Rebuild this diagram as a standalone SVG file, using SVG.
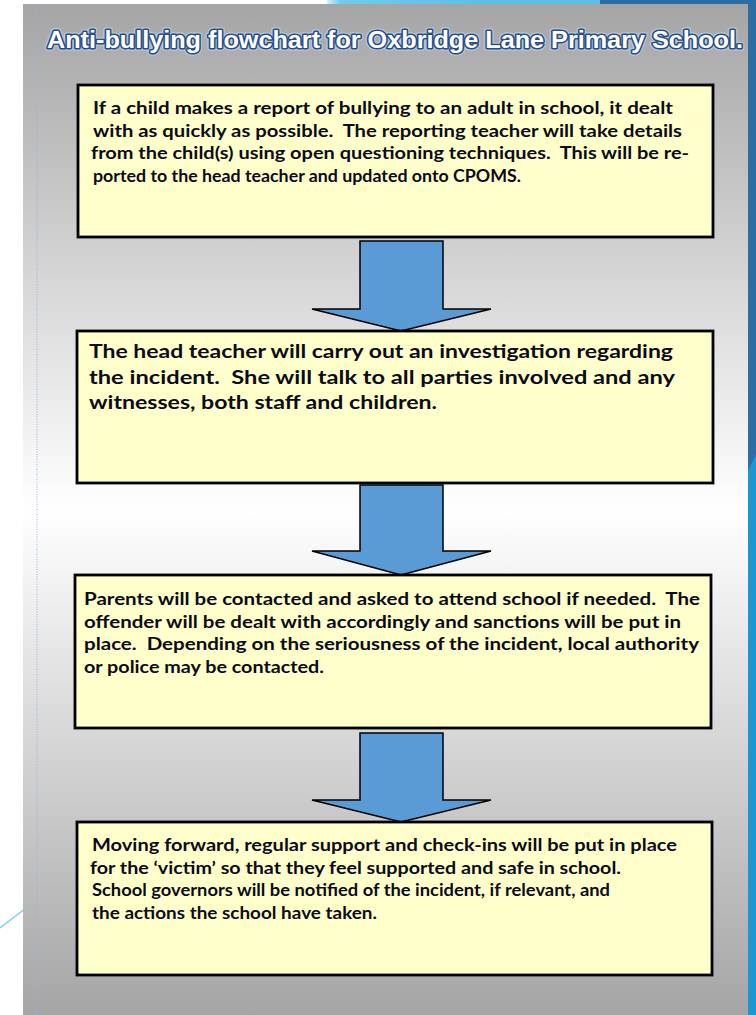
<svg xmlns="http://www.w3.org/2000/svg" width="756" height="1015" viewBox="0 0 756 1015">
<defs>
<linearGradient id="panelGrad" x1="0" y1="0" x2="0" y2="1">
<stop offset="0" stop-color="#a5a5a5"/>
<stop offset="0.5" stop-color="#ffffff"/>
<stop offset="1" stop-color="#a5a5a5"/>
</linearGradient>
<linearGradient id="topGrad" x1="0" y1="0" x2="1" y2="0">
<stop offset="0" stop-color="#d6eff9"/>
<stop offset="0.05" stop-color="#70cbe9"/>
<stop offset="0.55" stop-color="#5cc0e6"/>
<stop offset="1" stop-color="#5cc0e6"/>
</linearGradient>
<style>
.box{fill:#ffffcc;stroke:#000;stroke-width:2.8}
.arrow{fill:#5b9bd5;stroke:#000;stroke-width:1.5;stroke-linejoin:miter}
.t{font-family:Lato,"Noto Sans","DejaVu Sans",sans-serif;font-weight:700;fill:#0b0b16;white-space:pre}
.s17{font-size:16.5px}
.s20{font-size:19.5px}
.title{font-family:"Liberation Sans",Arial,sans-serif;font-weight:700;font-size:23px;fill:#ffffff;stroke:#2a4d86;stroke-width:3;paint-order:stroke;stroke-linejoin:round}
.glow{font-family:"Liberation Sans",Arial,sans-serif;font-weight:700;font-size:23px;fill:none;stroke:#b8cde6;stroke-width:5.5;stroke-linejoin:round;opacity:0.8}
</style>
</defs>
<rect x="0" y="0" width="756" height="1015" fill="#ffffff"/>
<rect x="327" y="0" width="273" height="5" fill="url(#topGrad)"/>
<rect x="600" y="0" width="156" height="5" fill="#2c6ea4"/>
<rect x="748" y="0" width="8" height="1015" fill="#2c6ea4"/>
<polygon points="748,470 756,455 756,1015 748,1015" fill="#1d97d0"/>
<line x1="0" y1="928" x2="30" y2="905" stroke="#7fd0f0" stroke-width="1.5"/>
<rect x="23" y="4" width="725" height="1011" fill="url(#panelGrad)"/>
<line x1="37" y1="4" x2="37" y2="1015" stroke="#8fb6ea" stroke-width="1" stroke-dasharray="1,1.5"/>

<g id="title">
<text class="glow" x="47" y="48" textLength="696" lengthAdjust="spacingAndGlyphs">Anti-bullying flowchart for Oxbridge Lane Primary School.</text>
<text class="title" x="47" y="48" textLength="696" lengthAdjust="spacingAndGlyphs">Anti-bullying flowchart for Oxbridge Lane Primary School.</text>
</g>

<g id="connectors">
<polygon class="arrow" points="360,241 443,241 443,309 491,309 401,331 312,309 360,309"/>
<polygon class="arrow" points="360,485 443,485 443,551 491,551 401,575 312,551 360,551"/>
<polygon class="arrow" points="360,733 443,733 443,800 491,800 401,822 312,800 360,800"/>
</g>

<g id="node1">
<rect class="box" x="78" y="85" width="635" height="152"/>
<text class="t s17" x="93" y="114" textLength="580" lengthAdjust="spacingAndGlyphs">If a child makes a report of bullying to an adult in school, it dealt</text>
<text class="t s17" x="93" y="136.5" textLength="589" lengthAdjust="spacingAndGlyphs">with as quickly as possible.  The reporting teacher will take details</text>
<text class="t s17" x="91" y="159" textLength="598" lengthAdjust="spacingAndGlyphs">from the child(s) using open questioning techniques.  This will be re-</text>
<text class="t s17" x="93" y="181.5" textLength="428" lengthAdjust="spacingAndGlyphs">ported to the head teacher and updated onto CPOMS.</text>
</g>

<g id="node2">
<rect class="box" x="77" y="331" width="636" height="152"/>
<text class="t s20" x="89" y="358" textLength="584" lengthAdjust="spacingAndGlyphs">The head teacher will carry out an investigation regarding</text>
<text class="t s20" x="89" y="383.5" textLength="586" lengthAdjust="spacingAndGlyphs">the incident.  She will talk to all parties involved and any</text>
<text class="t s20" x="89" y="409" textLength="348" lengthAdjust="spacingAndGlyphs">witnesses, both staff and children.</text>
</g>

<g id="node3">
<rect class="box" x="75" y="575" width="636" height="153"/>
<text class="t s17" x="84" y="605" textLength="616" lengthAdjust="spacingAndGlyphs">Parents will be contacted and asked to attend school if needed.  The</text>
<text class="t s17" x="84" y="627.5" textLength="597" lengthAdjust="spacingAndGlyphs">offender will be dealt with accordingly and sanctions will be put in</text>
<text class="t s17" x="84" y="650" textLength="615" lengthAdjust="spacingAndGlyphs">place.  Depending on the seriousness of the incident, local authority</text>
<text class="t s17" x="84" y="672.5" textLength="240" lengthAdjust="spacingAndGlyphs">or police may be contacted.</text>
</g>

<g id="node4">
<rect class="box" x="77" y="822" width="635" height="153"/>
<text class="t s17" x="92" y="851" textLength="585" lengthAdjust="spacingAndGlyphs">Moving forward, regular support and check-ins will be put in place</text>
<text class="t s17" x="90" y="873.5" textLength="531" lengthAdjust="spacingAndGlyphs">for the ‘victim’ so that they feel supported and safe in school.</text>
<text class="t s17" x="92" y="896" textLength="518" lengthAdjust="spacingAndGlyphs">School governors will be notified of the incident, if relevant, and</text>
<text class="t s17" x="92" y="918.5" textLength="285" lengthAdjust="spacingAndGlyphs">the actions the school have taken.</text>
</g>
</svg>
